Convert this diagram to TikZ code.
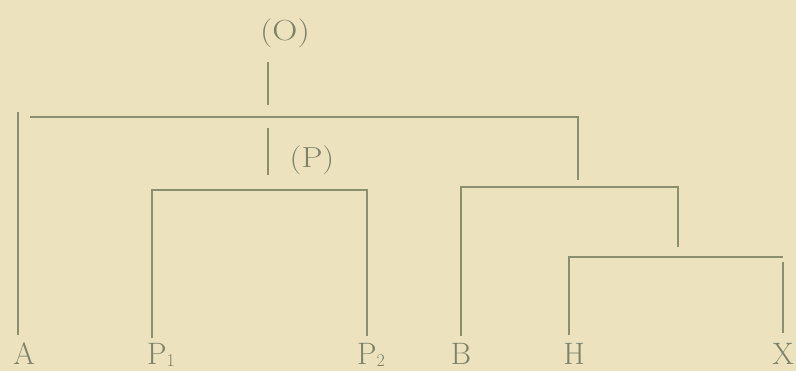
\documentclass[tikz,border=0pt]{standalone}
\definecolor{bgc}{HTML}{ECE3BE}
\definecolor{lnc}{HTML}{8C8F6E}
\definecolor{txc}{HTML}{7E8168}
\newcommand{\lowsub}[1]{\raisebox{-2pt}{\fontsize{18}{18}\selectfont #1}}
\begin{document}
\begin{tikzpicture}[x=1pt,y=-1pt,
  ln/.style={draw=lnc, line width=2.8pt},
  lbl/.style={text=txc, inner sep=0pt, font=\fontsize{31}{33}\selectfont, anchor=base},
  top/.style={text=txc, inner sep=0pt, font=\fontsize{29}{31}\selectfont, anchor=center}]
\fill[bgc] (0,0) rectangle (796,371);
\useasboundingbox (0,0) rectangle (796,371);
% labels
\node[top] (O) at (285,33) {\scalebox{1.2}[1]{(O)}};
\node[top] (P) at (312,160) {\scalebox{1.15}[1]{(P)}};
\node[lbl] (A) at (24,365) {A};
\node[lbl, anchor=base west] (P1) at (147,365) {P\lowsub{1}};
\node[lbl, anchor=base west] (P2) at (357,365) {P\lowsub{2}};
\node[lbl] (B) at (461,365) {B};
\node[lbl] (H) at (574,365) {H};
\node[lbl] (X) at (783,365) {X};
% joints
\coordinate (o1) at (268,62);  \coordinate (o2) at (268,105);
\coordinate (t1) at (30,117);  \coordinate (t2) at (578,117);
\coordinate (a1) at (18,112);  \coordinate (a2) at (18,335);
\coordinate (p0) at (268,128); \coordinate (p00) at (268,175);
\coordinate (r1) at (578,180);
\coordinate (pl) at (152,190); \coordinate (pr) at (367,190);
\coordinate (pl2) at (152,338); \coordinate (pr2) at (367,336);
\coordinate (bl) at (461,187); \coordinate (br) at (678,187);
\coordinate (bl2) at (461,336); \coordinate (br2) at (678,247);
\coordinate (hl) at (569,257); \coordinate (hr) at (783,257);
\coordinate (hl2) at (569,335);
\coordinate (x1) at (783,262); \coordinate (x2) at (783,333);
% connectors
\draw[ln] (o1) -- (o2);
\draw[ln] (t1) -- (t2) -- (r1);
\draw[ln] (a1) -- (a2);
\draw[ln] (p0) -- (p00);
\draw[ln] (pl2) -- (pl) -- (pr) -- (pr2);
\draw[ln] (bl2) -- (bl) -- (br) -- (br2);
\draw[ln] (hl2) -- (hl) -- (hr);
\draw[ln] (x1) -- (x2);
\end{tikzpicture}
\end{document}
